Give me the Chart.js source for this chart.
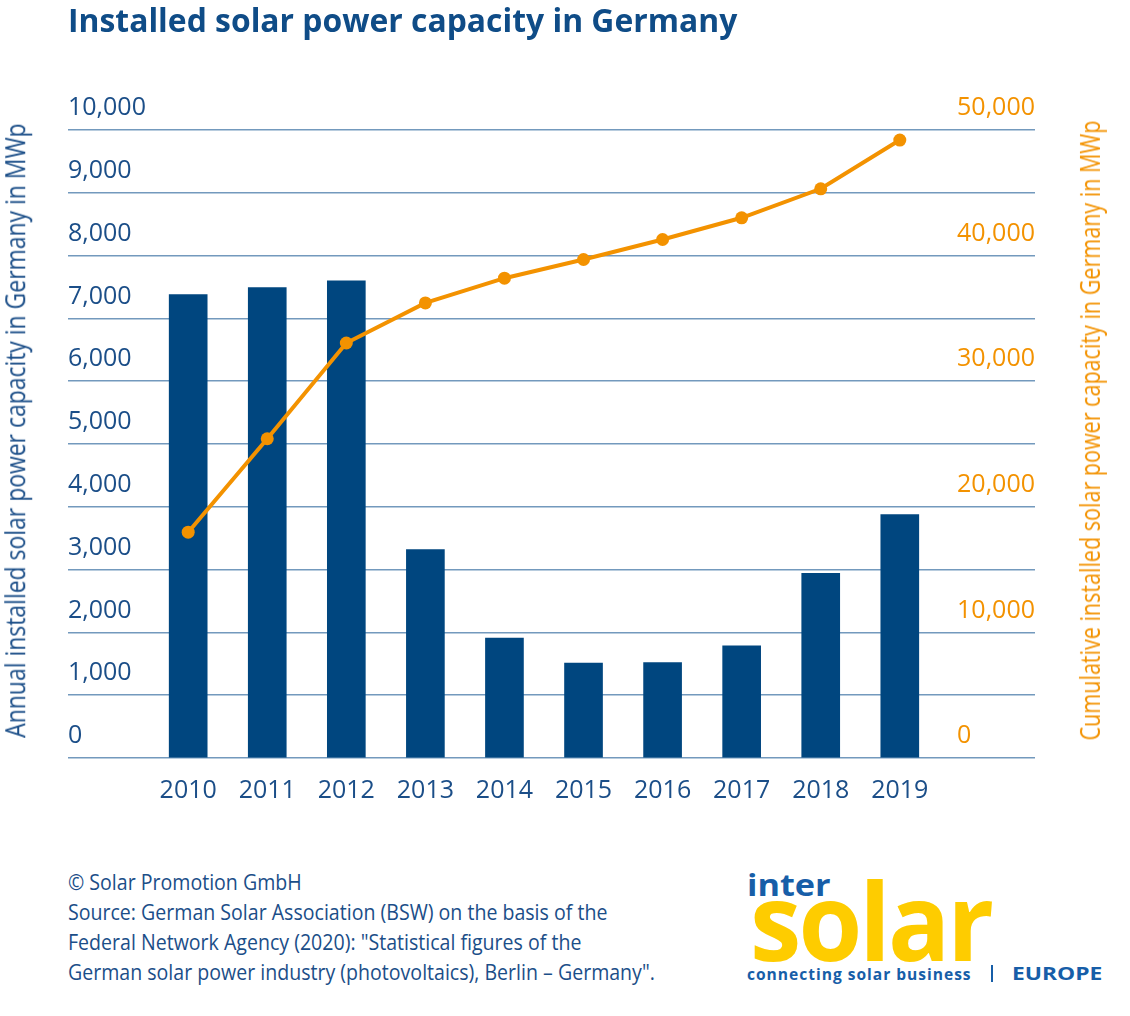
<!DOCTYPE html>
<html>
<head>
<meta charset="utf-8">
<title>Installed solar power capacity in Germany</title>
<script src="https://cdn.jsdelivr.net/npm/chart.js@4.4.1/dist/chart.umd.min.js"></script>
<style>
    html, body { margin: 0; padding: 0; background: #fff; }
    #page { position: relative; width: 1130px; height: 1016px; overflow: hidden; font-family: 'Open Sans', sans-serif; }
    #chartBox { position: absolute; left: 0; top: 0; width: 1130px; height: 830px; }
    .txt { position: absolute; white-space: nowrap; line-height: 1; transform-origin: 0 0; }
    #title { left: 68px; top: 4px; font-size: 32px; font-weight: 700; color: #0f4c87; }
    .vtitle { font-size: 27px; }
    #yTitleLeft { color: #1b4e88; }
    #yTitleRight { color: #f39200; }
    #note { left: 68px; top: 867px; font-size: 21px; line-height: 30px; color: #1b4e88; }
    #logoInter { left: 747px; top: 869px; font-size: 31px; font-weight: 700; color: #175ea8; }
    #logoSolar { left: 750px; top: 866px; font-size: 107px; font-weight: 700; color: #fecc00; letter-spacing: -3px; }
    #logoTag { left: 747px; top: 966px; font-size: 16px; font-weight: 700; color: #175ea8; letter-spacing: 1px; }
    #logoBar { position: absolute; left: 991px; top: 965px; width: 2px; height: 17px; background: #175ea8; }
    #logoEurope { left: 1012px; top: 964px; font-size: 18.5px; font-weight: 700; color: #175ea8; }
</style>
</head>
<body>
<div id="page">
    <div id="chartBox"><canvas id="solarChart"></canvas></div>
    <div id="title" class="txt">Installed solar power capacity in Germany</div>
    <div id="yTitleLeft" class="txt vtitle">Annual installed solar power capacity in Germany in MWp</div>
    <div id="yTitleRight" class="txt vtitle">Cumulative installed solar power capacity in Germany in MWp</div>
    <div id="note" class="txt">© Solar Promotion GmbH<br>Source: German Solar Association (BSW) on the basis of the<br>Federal Network Agency (2020): "Statistical figures of the<br>German solar power industry (photovoltaics), Berlin – Germany".</div>
    <span id="logoInter" class="txt">inter</span>
    <span id="logoSolar" class="txt">solar</span>
    <span id="logoTag" class="txt">connecting solar business</span>
    <div id="logoBar"></div>
    <span id="logoEurope" class="txt">EUROPE</span>
</div>
<script>
// Data (MWp)
const years = [2010, 2011, 2012, 2013, 2014, 2015, 2016, 2017, 2018, 2019];
const annualMWp = [7380, 7490, 7600, 3320, 1910, 1510, 1520, 1785, 2940, 3875];
const cumulativeMWp = [17980, 25420, 33040, 36230, 38200, 39690, 41280, 43010, 45320, 49200];
const annualTicks = [0, 1000, 2000, 3000, 4000, 5000, 6000, 7000, 8000, 9000, 10000];
const cumulativeTicks = [0, 10000, 20000, 30000, 40000, 50000];

// Colours
const BLUE_TEXT = '#1b4e88';
const BAR_BLUE = '#00467f';
const ORANGE = '#f39200';
const GRID = '#7399bd';

const tickFont = { family: "'Open Sans', sans-serif", size: 25 };

// Stretch a text element to a given width
function fitWidth(id, target) {
    const el = document.getElementById(id);
    const w = el.offsetWidth;
    el.style.transform = 'scaleX(' + (target / w) + ')';
}

// Rotated axis title, centred on (cx, cy)
function placeVertical(id, cx, cy, length) {
    const el = document.getElementById(id);
    const w = el.offsetWidth, h = el.offsetHeight;
    el.style.left = (cx - w / 2) + 'px';
    el.style.top = (cy - h / 2) + 'px';
    el.style.transformOrigin = '50% 50%';
    el.style.transform = 'rotate(-90deg) scaleX(' + (length / w) + ')';
}

function buildChart() {
    const ctx = document.getElementById('solarChart');
    new Chart(ctx, {
        type: 'bar',
        data: {
            labels: years,
            datasets: [{
                type: 'line',
                label: 'Cumulative',
                data: cumulativeMWp,
                yAxisID: 'y1',
                borderColor: ORANGE,
                backgroundColor: ORANGE,
                borderWidth: 4,
                pointRadius: 6.5,
                pointBackgroundColor: ORANGE,
                pointBorderWidth: 0,
                tension: 0,
                order: 1
            }, {
                type: 'bar',
                label: 'Annual',
                data: annualMWp,
                yAxisID: 'y',
                backgroundColor: BAR_BLUE,
                barThickness: 38,
                order: 2
            }]
        },
        options: {
            responsive: true,
            maintainAspectRatio: false,
            animation: false,
            locale: 'en-US',
            layout: { padding: { left: 68, right: 95, top: 130, bottom: 6 } },
            plugins: {
                legend: { display: false },
                tooltip: { enabled: false }
            },
            scales: {
                x: {
                    type: 'linear',
                    offset: false,
                    min: 2008.48,
                    max: 2020.71,
                    grid: { display: false, drawTicks: false },
                    border: { display: false },
                    afterBuildTicks: axis => { axis.ticks = years.map(v => ({ value: v })); },
                    ticks: {
                        autoSkip: false,
                        maxRotation: 0,
                        padding: 18,
                        color: BLUE_TEXT,
                        font: tickFont,
                        callback: v => String(v)
                    }
                },
                y: {
                    position: 'left',
                    min: 0,
                    max: 10000,
                    grid: { color: GRID, lineWidth: 1.5, drawTicks: false },
                    border: { display: false },
                    afterBuildTicks: axis => { axis.ticks = annualTicks.map(v => ({ value: v })); },
                    ticks: {
                        mirror: true,
                        crossAlign: 'near',
                        padding: 0,
                        labelOffset: -22,
                        color: BLUE_TEXT,
                        font: tickFont,
                        callback: v => v.toLocaleString('en-US')
                    }
                },
                y1: {
                    position: 'right',
                    min: 0,
                    max: 50000,
                    grid: { display: false, drawTicks: false },
                    border: { display: false },
                    afterBuildTicks: axis => { axis.ticks = cumulativeTicks.map(v => ({ value: v })); },
                    ticks: {
                        mirror: true,
                        crossAlign: 'far',
                        padding: 0,
                        labelOffset: -22,
                        color: ORANGE,
                        font: tickFont,
                        callback: v => v.toLocaleString('en-US')
                    }
                }
            }
        }
    });
}

document.addEventListener('DOMContentLoaded', () => {
    fitWidth('title', 669);
    fitWidth('note', 587);
    fitWidth('logoInter', 84);
    fitWidth('logoSolar', 241);
    fitWidth('logoTag', 225);
    fitWidth('logoEurope', 90);
    placeVertical('yTitleLeft', 14, 430, 614);
    placeVertical('yTitleRight', 1089, 430, 620);
    buildChart();
});
</script>
</body>
</html>
